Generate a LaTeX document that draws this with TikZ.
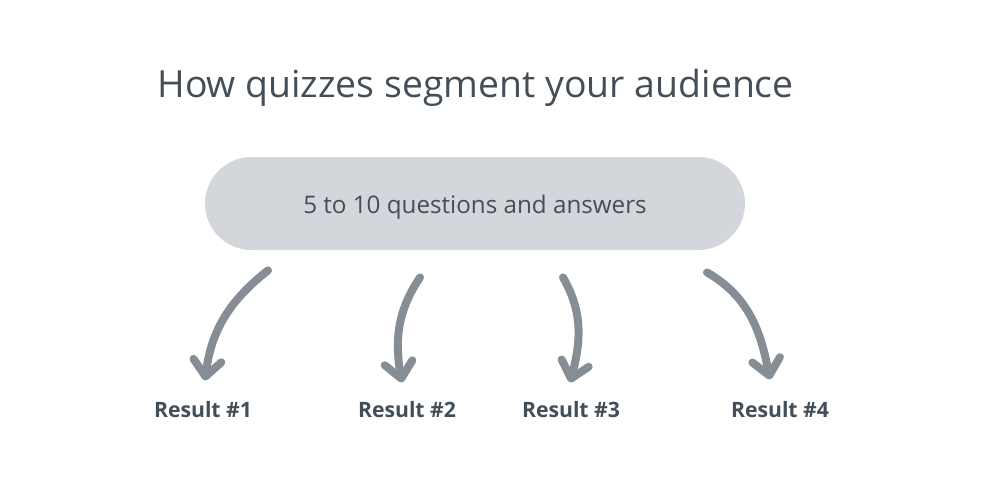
\documentclass[tikz,border=0pt]{standalone}
\usepackage{fontspec}
\setmainfont{Open Sans}
\usetikzlibrary{arrows.meta, positioning}

\definecolor{slate}{HTML}{434E58}
\definecolor{pillgray}{HTML}{D3D6DA}
\definecolor{arrowgray}{HTML}{878D94}

\begin{document}
\begin{tikzpicture}[x=0.5pt, y=-0.5pt, >={Straight Barb[length=8pt, width=14pt, round]}]

    % -------------------------------------------------------
    % 1. Canvas and title
    % -------------------------------------------------------
    \useasboundingbox (0,0) rectangle (1000,500);
    \node[anchor=base west, inner sep=0, text=slate, font=\fontsize{18.7}{22}\selectfont]
        (title) at (157,97) {How quizzes segment your audience};

    % -------------------------------------------------------
    % 2. The quiz pill
    % -------------------------------------------------------
    \node[fill=pillgray, rounded corners=23.25pt, minimum width=270pt, minimum height=46.5pt,
          inner sep=0, text=slate, font=\fontsize{12.1}{15}\selectfont]
        (quiz) at (475,203.5) {\raisebox{-4.75pt}[0pt][0pt]{5 to 10 questions and answers}};

    % -------------------------------------------------------
    % 3. Results
    % -------------------------------------------------------
    \tikzset{result/.style={inner sep=0, text=slate, font=\bfseries\fontsize{10.6}{13}\selectfont}}
    \node[result] (res1) at (203,410) {Result \#1};
    \node[result] (res2) at (407,410) {Result \#2};
    \node[result] (res3) at (571,410) {Result \#3};
    \node[result] (res4) at (780,410) {Result \#4};

    % -------------------------------------------------------
    % 4. Curved arrows from the pill to each result
    % -------------------------------------------------------
    \tikzset{brush/.style={->, arrowgray, line width=4pt, line cap=round}}
    \draw[brush] ([shift={(-207,20)}]quiz.south) to[out=218, in=83]  ([shift={(2,-21)}]res1.north);
    \draw[brush] ([shift={(-55,27)}]quiz.south)  to[out=236, in=100] ([shift={(-5,-19)}]res2.north);
    \draw[brush] ([shift={(88,27)}]quiz.south)   to[out=-60, in=75]  ([shift={(-1,-19)}]res3.north);
    \draw[brush] ([shift={(232,22)}]quiz.south)  to[out=-30, in=101] ([shift={(-10,-22)}]res4.north);
\end{tikzpicture}
\end{document}
